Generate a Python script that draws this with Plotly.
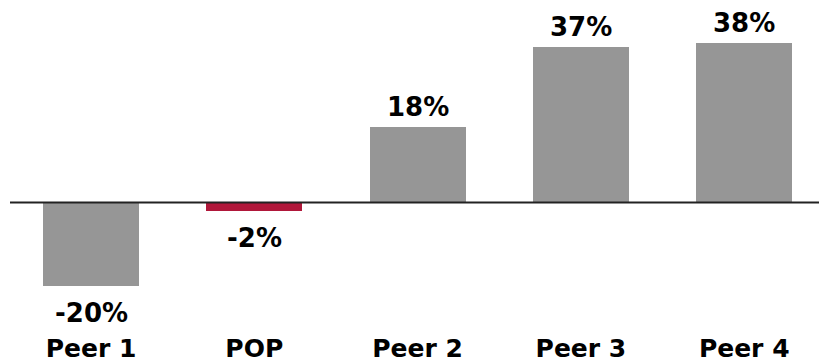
import plotly.graph_objects as go

# Percentage change by company
categories = ["Peer 1", "POP", "Peer 2", "Peer 3", "Peer 4"]
values = [-20, -2, 18, 37, 38]
value_labels = ["-20%", "-2%", "18%", "37%", "38%"]

GREY = "#969696"
RED = "#B0173A"
colors = [RED if c == "POP" else GREY for c in categories]

FONT = "Tahoma, Verdana, DejaVu Sans, sans-serif"

fig = go.Figure(
    go.Bar(
        x=list(range(len(categories))),
        y=values,
        width=0.588,
        marker=dict(color=colors, line=dict(width=0)),
        hoverinfo="skip",
    )
)

# value labels above positive bars and below negative ones
for i, (v, lab) in enumerate(zip(values, value_labels)):
    fig.add_annotation(
        x=i, y=v, text=f"<b>{lab}</b>", showarrow=False,
        yanchor="bottom" if v >= 0 else "top",
        yshift=3 if v >= 0 else -10,
        font=dict(family=FONT, size=26, color="#000000"),
    )

# zero baseline
fig.add_shape(
    type="line", xref="paper", yref="y", x0=0, x1=1.02, y0=0, y1=0,
    line=dict(color="#222222", width=2), layer="above",
)

fig.update_layout(
    width=819, height=363,
    margin=dict(l=10, r=0, t=0, b=24),
    paper_bgcolor="white", plot_bgcolor="white",
    showlegend=False,
    bargap=0,
    xaxis=dict(
        range=[-0.496, 4.458],
        tickmode="array",
        tickvals=list(range(len(categories))),
        ticktext=[f"<b>{c}</b>" for c in categories],
        tickfont=dict(family=FONT, size=25, color="#000000"),
        showgrid=False, zeroline=False, showline=False, ticks="",
    ),
    yaxis=dict(
        range=[-30.6, 48.2],
        visible=False, showgrid=False, zeroline=False,
    ),
)

fig.write_html("out.html")
